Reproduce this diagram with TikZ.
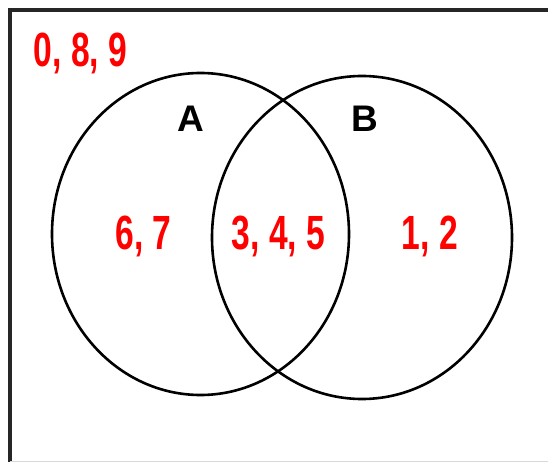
\documentclass[tikz,border=0pt]{standalone}
\usepackage{fontspec}
\setmainfont{Liberation Sans}
\newfontfamily\narrowfont{Liberation Sans}[FakeStretch=0.70]
\definecolor{vred}{RGB}{255,0,0}
\tikzset{
  num/.style={text=vred, font=\narrowfont\bfseries\fontsize{48}{48}\selectfont, inner sep=0pt, anchor=center},
  setlabel/.style={text=black, font=\bfseries\fontsize{37}{37}\selectfont, inner sep=0pt, anchor=center},
  circ/.style={draw=black, line width=2.6pt}
}
\begin{document}
\begin{tikzpicture}[x=1pt,y=-1pt]
\useasboundingbox (0,0) rectangle (548,462);
\fill[white] (0,0) rectangle (548,462);
\draw[line width=3.2pt, black!85] (10,470) -- (10,10) -- (560,10);
\draw[line width=1pt, black!15] (10,461) -- (548,461);
\draw[circ] (200.5,234) ellipse [x radius=148.5, y radius=161];
\draw[circ] (362,237.5) ellipse [x radius=150, y radius=161.5];
\node[setlabel] (A) at (190.5,118.5) {A};
\node[setlabel] (B) at (365,118.5) {B};
\node[num] (out) at (80.5,53) {0, 8, 9};
\node[num] (onlyA) at (143.5,236) {6, 7};
\node[num] (both) at (278.5,236) {3, 4, 5};
\node[num] (onlyB) at (430,236) {1, 2};
\end{tikzpicture}
\end{document}
